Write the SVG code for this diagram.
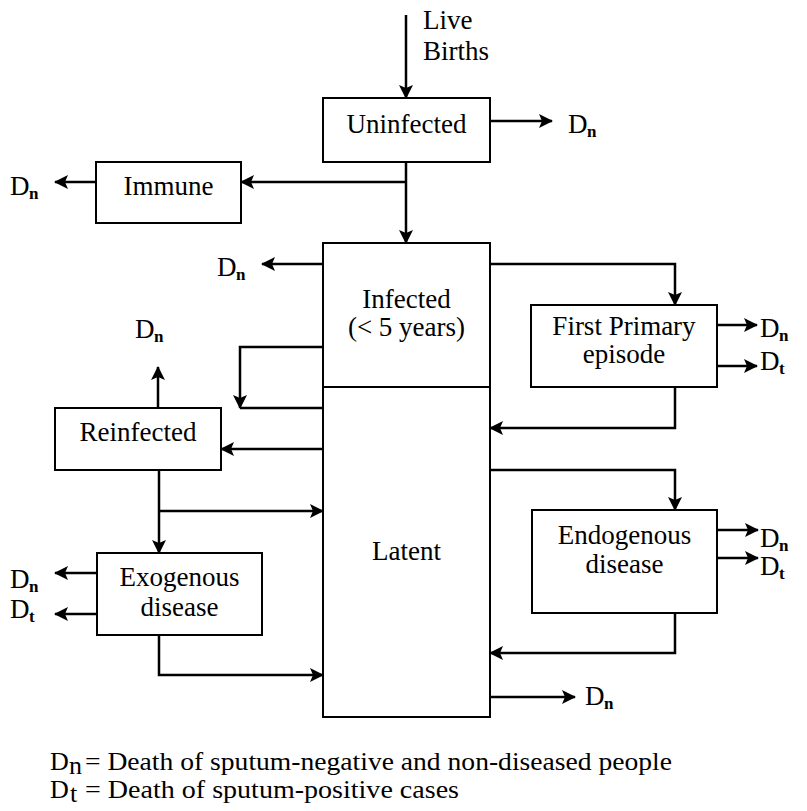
<svg xmlns="http://www.w3.org/2000/svg" width="807" height="811" viewBox="0 0 807 811">
  <style>
    .box { fill: #fff; stroke: #000; stroke-width: 2; }
    .lbl { font-family: 'Liberation Serif', 'DejaVu Serif', serif; font-size: 27px; fill: #000; }
    .mid { text-anchor: middle; }
    .sub { font-family: 'Liberation Serif', 'DejaVu Serif', serif; font-size: 17px; font-weight: bold; fill: #000; }
    .leg { font-family: 'Liberation Serif', 'DejaVu Serif', serif; font-size: 26px; fill: #000; }
    .wire { fill: none; stroke: #000; stroke-width: 2.5; }
    .arr { marker-end: url(#head); }
  </style>
  <defs>
    <marker id="head" viewBox="0 0 14 14" markerWidth="14" markerHeight="14" refX="13" refY="7" orient="auto" markerUnits="userSpaceOnUse">
      <path d="M0,0 L14,7 L0,14 L3,7 z" fill="#000"/>
    </marker>
  </defs>

  <!-- connectors -->
  <g id="connectors">
    <line class="wire arr" x1="406" y1="15" x2="406" y2="98"/>
    <line class="wire arr" x1="490" y1="121" x2="552" y2="121"/>
    <line class="wire arr" x1="406" y1="162" x2="406" y2="243"/>
    <line class="wire arr" x1="406" y1="182" x2="241" y2="182"/>
    <line class="wire arr" x1="96" y1="182" x2="55" y2="182"/>
    <line class="wire arr" x1="323" y1="264" x2="262" y2="264"/>
    <polyline class="wire arr" points="323,347 240,347 240,408"/>
    <line class="wire" x1="240" y1="408" x2="323" y2="408"/>
    <polyline class="wire arr" points="490,264 675,264 675,305"/>
    <line class="wire arr" x1="717" y1="325" x2="757" y2="325"/>
    <line class="wire arr" x1="717" y1="366" x2="757" y2="366"/>
    <polyline class="wire arr" points="675,387 675,428 490,428"/>
    <line class="wire arr" x1="323" y1="449" x2="221" y2="449"/>
    <line class="wire arr" x1="158" y1="408" x2="158" y2="367"/>
    <line class="wire arr" x1="159" y1="470" x2="159" y2="553"/>
    <line class="wire arr" x1="159" y1="511" x2="323" y2="511"/>
    <line class="wire arr" x1="97" y1="573" x2="55" y2="573"/>
    <line class="wire arr" x1="97" y1="614" x2="55" y2="614"/>
    <polyline class="wire arr" points="159,635 159,675 323,675"/>
    <polyline class="wire arr" points="490,470 675,470 675,510"/>
    <line class="wire arr" x1="717" y1="530" x2="758" y2="530"/>
    <line class="wire arr" x1="717" y1="558" x2="758" y2="558"/>
    <polyline class="wire arr" points="675,613 675,653 490,653"/>
    <line class="wire arr" x1="490" y1="697" x2="575" y2="697"/>
  </g>

  <!-- inflow -->
  <g id="live-births">
    <text class="lbl" x="423" y="29">Live</text>
    <text class="lbl" x="423" y="60">Births</text>
  </g>

  <!-- compartments -->
  <g id="uninfected">
    <rect class="box" x="323" y="98" width="167" height="64"/>
    <text class="lbl mid" x="406.5" y="133">Uninfected</text>
  </g>
  <g id="immune">
    <rect class="box" x="96" y="162" width="145" height="61"/>
    <text class="lbl mid" x="168.5" y="195">Immune</text>
  </g>
  <g id="infected">
    <rect class="box" x="323" y="243" width="167" height="144"/>
    <text class="lbl mid" x="406.5" y="308">Infected</text>
    <text class="lbl mid" x="406.5" y="336">(&lt; 5 years)</text>
  </g>
  <g id="latent">
    <rect class="box" x="323" y="387" width="167" height="330"/>
    <text class="lbl mid" x="406.5" y="560">Latent</text>
  </g>
  <g id="first-primary">
    <rect class="box" x="531" y="305" width="186" height="82"/>
    <text class="lbl mid" x="624" y="335">First Primary</text>
    <text class="lbl mid" x="624" y="363">episode</text>
  </g>
  <g id="reinfected">
    <rect class="box" x="55" y="408" width="166" height="62"/>
    <text class="lbl mid" x="138" y="441">Reinfected</text>
  </g>
  <g id="exogenous">
    <rect class="box" x="97" y="553" width="165" height="82"/>
    <text class="lbl mid" x="179.5" y="586">Exogenous</text>
    <text class="lbl mid" x="179.5" y="616">disease</text>
  </g>
  <g id="endogenous">
    <rect class="box" x="532" y="510" width="185" height="103"/>
    <text class="lbl mid" x="624.5" y="544">Endogenous</text>
    <text class="lbl mid" x="624.5" y="573">disease</text>
  </g>

  <!-- death outflows: D with subscript n (non-diseased) or t (sputum-positive) -->
  <g id="deaths">
    <text class="lbl" x="568" y="133">D</text><text class="sub" x="587" y="137">n</text>
    <text class="lbl" x="10" y="195">D</text><text class="sub" x="29" y="199">n</text>
    <text class="lbl" x="217" y="276">D</text><text class="sub" x="236" y="280">n</text>
    <text class="lbl" x="135" y="338">D</text><text class="sub" x="154" y="342">n</text>
    <text class="lbl" x="760" y="337">D</text><text class="sub" x="779" y="341">n</text>
    <text class="lbl" x="760" y="370">D</text><text class="sub" x="779" y="374">t</text>
    <text class="lbl" x="10" y="588">D</text><text class="sub" x="29" y="592">n</text>
    <text class="lbl" x="10" y="618">D</text><text class="sub" x="29" y="622">t</text>
    <text class="lbl" x="760" y="547">D</text><text class="sub" x="779" y="551">n</text>
    <text class="lbl" x="760" y="575">D</text><text class="sub" x="779" y="579">t</text>
    <text class="lbl" x="585" y="705">D</text><text class="sub" x="604" y="709">n</text>
  </g>

  <!-- key -->
  <g id="legend">
    <text class="leg" x="50" y="770">D</text>
    <text class="leg" x="69" y="774" font-size="14">n</text>
    <text class="leg" x="85" y="770" textLength="587" lengthAdjust="spacingAndGlyphs">= Death of sputum-negative and non-diseased people</text>
    <text class="leg" x="50" y="798">D</text>
    <text class="leg" x="70" y="802" font-size="14">t</text>
    <text class="leg" x="85" y="798" textLength="374" lengthAdjust="spacingAndGlyphs">= Death of sputum-positive cases</text>
  </g>
</svg>
